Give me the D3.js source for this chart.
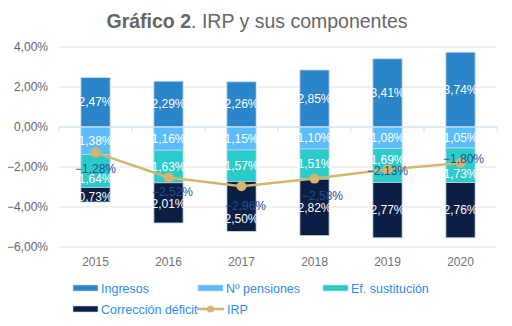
<!DOCTYPE html>
<html>
<head>
<meta charset="utf-8">
<script src="https://cdn.jsdelivr.net/npm/d3@7"></script>
<style>
  body { margin: 0; background: #fff; }
  text { font-family: "Liberation Sans", Arial, sans-serif; }
</style>
</head>
<body>
<svg id="chart" width="512" height="326"></svg>
<script>
// data
var years = ["2015", "2016", "2017", "2018", "2019", "2020"];
var ingresos = [2.47, 2.29, 2.26, 2.85, 3.41, 3.74];
var pensiones = [-1.38, -1.16, -1.15, -1.10, -1.08, -1.05];
var sustitucion = [-1.64, -1.63, -1.57, -1.51, -1.69, -1.73];
var correccion = [-0.73, -2.01, -2.50, -2.82, -2.77, -2.76];
var irp = [-1.28, -2.52, -2.96, -2.58, -2.13, -1.80];
var yTicks = [4, 2, 0, -2, -4, -6];

var series = [
  { name: "Ingresos", values: ingresos, color: "#2b85c9" },
  { name: "Nº pensiones", values: pensiones, color: "#5bbdfd" },
  { name: "Ef. sustitución", values: sustitucion, color: "#2ccbcb" },
  { name: "Corrección déficit", values: correccion, color: "#0b1f45" }
];
var lineColor = "#d2b76c";

// label nudges (px) so labels dodge the IRP labels, like the original
var nudge = [
  [0, 0, 0, 0, 0, 0],
  [0, 0, 0, 0, 0, 0],
  [8, 0, 0, 0, -6, 9],
  [2, 1, 13, 1, 0, 0]
];

var svg = d3.select("#chart");
var margin = { left: 59, right: 15, top: 47, bottom: 79 };
var W = 512, H = 326;

var x = d3.scaleBand().domain(years).range([margin.left, W - margin.right]).paddingInner(0.6).paddingOuter(0.3);
var y = d3.scaleLinear().domain([-6, 4]).range([H - margin.bottom, margin.top]);

var fmt = function(v) { return d3.format(".2f")(v).replace(".", ",") + "%"; };

// title
var title = svg.append("text").attr("x", 257).attr("y", 28).attr("text-anchor", "middle")
  .attr("font-size", 19.5).attr("fill", "#666");
title.append("tspan").attr("font-weight", "bold").text("Gráfico 2");
title.append("tspan").text(". IRP y sus componentes");

// grid
svg.append("g").selectAll("line").data(yTicks).join("line")
  .attr("x1", margin.left).attr("x2", W - margin.right)
  .attr("y1", function(d) { return y(d); }).attr("y2", function(d) { return y(d); })
  .attr("stroke", "#e3e3e3").attr("stroke-width", 1.2);

svg.append("g").selectAll("text").data(yTicks).join("text")
  .attr("x", 48).attr("y", function(d) { return y(d) + 4; })
  .attr("text-anchor", "end").attr("font-size", 12).attr("fill", "#666")
  .text(fmt);

// stacked bars: positives up from 0, negatives down from 0
var barG = svg.append("g");
years.forEach(function(yr, i) {
  var pos = 0, neg = 0;
  series.forEach(function(s, si) {
    var v = s.values[i], y0, y1;
    if (v >= 0) { y0 = pos; y1 = pos + v; pos = y1; }
    else { y0 = neg; y1 = neg + v; neg = y1; }
    var top = y(Math.max(y0, y1)), bot = y(Math.min(y0, y1));
    barG.append("rect")
      .attr("x", x(yr)).attr("width", x.bandwidth())
      .attr("y", top).attr("height", bot - top)
      .attr("fill", s.color).attr("stroke", "#c9d7ec").attr("stroke-width", 0.8);
    barG.append("text")
      .attr("x", x(yr) + x.bandwidth() / 2).attr("y", (top + bot) / 2 + 4 + nudge[si][i])
      .attr("text-anchor", "middle").attr("font-size", 12).attr("fill", "#fff")
      .text(fmt(Math.abs(v)));
  });
});

// zero axis
svg.append("line").attr("x1", margin.left).attr("x2", W - margin.right)
  .attr("y1", y(0)).attr("y2", y(0)).attr("stroke", "#cfe3f7").attr("stroke-width", 1.2);
var bounds = d3.range(years.length + 1).map(function(k) { return margin.left + k * (W - margin.left - margin.right) / years.length; });
svg.append("g").selectAll("line").data(bounds).join("line")
  .attr("x1", function(d) { return d; }).attr("x2", function(d) { return d; })
  .attr("y1", y(0)).attr("y2", y(0) + 5).attr("stroke", "#cfe3f7");

// IRP line
var cx = function(d, i) { return x(years[i]) + x.bandwidth() / 2; };
var line = d3.line().x(cx).y(function(d) { return y(d); });
svg.append("path").datum(irp).attr("d", line)
  .attr("fill", "none").attr("stroke", lineColor).attr("stroke-width", 2.5);
svg.append("g").selectAll("circle").data(irp).join("circle")
  .attr("cx", cx).attr("cy", function(d) { return y(d); }).attr("r", 5).attr("fill", lineColor);

var labDx = [0, 4, 4, 8, 0, 3];
var labDy = [16, 15, 20, 17, 1, -4];
svg.append("g").selectAll("text").data(irp).join("text")
  .attr("x", function(d, i) { return cx(d, i) + labDx[i]; })
  .attr("y", function(d, i) { return y(d) + labDy[i] + 4; })
  .attr("text-anchor", "middle").attr("font-size", 12).attr("fill", "#1f4f8f")
  .text(fmt);

// x labels
svg.append("g").selectAll("text").data(years).join("text")
  .attr("x", function(d) { return x(d) + x.bandwidth() / 2; }).attr("y", 266)
  .attr("text-anchor", "middle").attr("font-size", 12).attr("fill", "#737373")
  .text(function(d) { return d; });

// legend
var legend = [
  { name: "Ingresos", color: series[0].color, x: 73, y: 288 },
  { name: "Nº pensiones", color: series[1].color, x: 198, y: 288 },
  { name: "Ef. sustitución", color: series[2].color, x: 323, y: 288 },
  { name: "Corrección déficit", color: series[3].color, x: 73, y: 309 },
  { name: "IRP", color: lineColor, x: 197, y: 309, line: true }
];
var lg = svg.append("g").selectAll("g").data(legend).join("g");
lg.each(function(d) {
  var g = d3.select(this);
  if (d.line) {
    g.append("line").attr("x1", d.x).attr("x2", d.x + 27).attr("y1", d.y).attr("y2", d.y)
      .attr("stroke", d.color).attr("stroke-width", 2.5);
    g.append("circle").attr("cx", d.x + 13.5).attr("cy", d.y).attr("r", 3.5).attr("fill", d.color);
  } else {
    g.append("rect").attr("x", d.x).attr("y", d.y - 3).attr("width", 25).attr("height", 6)
      .attr("fill", d.color).attr("stroke", "#c9d7ec").attr("stroke-width", 0.6);
  }
  g.append("text").attr("x", d.x + (d.line ? 30 : 28)).attr("y", d.y + 4.5)
    .attr("font-size", 12.5).attr("fill", "#2b8cf0").text(d.name);
});
</script>
</body>
</html>
